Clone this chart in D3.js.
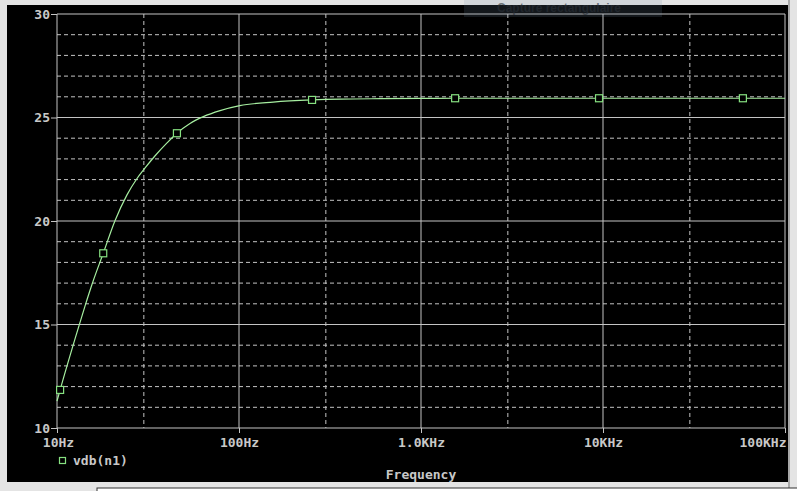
<!DOCTYPE html>
<html>
<head>
<meta charset="utf-8">
<script src="https://cdn.jsdelivr.net/npm/d3@7/dist/d3.min.js"></script>
<style>
  html, body { margin: 0; padding: 0; background: #e4e4e4; overflow: hidden; }
  svg { display: block; }
  .lbl { font-family: "DejaVu Sans Mono", "Liberation Mono", monospace; font-weight: bold; font-size: 13px; fill: #c8c8c8; }
</style>
</head>
<body>
<svg id="chart"></svg>
<script>
// trace vdb(n1)
const freqs = [10, 10.4, 13.1, 14.25, 15.8, 17.95, 20.8, 24.2, 27.4, 30.4, 34.5, 40.1, 45.6,
               53.8, 63.7, 78.7, 101, 154, 252, 359, 600, 1000, 1540, 10000, 100000];
const vdb = [11.3, 11.84, 14.84, 15.89, 17.1, 18.44, 20.0, 21.25, 22.03, 22.55, 23.14, 23.76, 24.24,
             24.71, 25.04, 25.33, 25.57, 25.745, 25.85, 25.89, 25.91, 25.92, 25.93, 25.93, 25.93];

// points where the plotter drew its square markers
const markerFreqs = [10.4, 17.95, 45.6, 252, 1540, 9510, 58700];
const markerVals = [11.84, 18.44, 24.24, 25.85, 25.93, 25.93, 25.93];

const xTicks = [10, 100, 1000, 10000, 100000];
const xTickLabels = ["10Hz", "100Hz", "1.0KHz", "10KHz", "100KHz"];
const xMinor = [30, 300, 3000, 30000];
const yTicks = [10, 15, 20, 25, 30];
const yMinor = [11, 12, 13, 14, 16, 17, 18, 19, 21, 22, 23, 24, 26, 27, 28, 29];

const W = 797, H = 491;
const margin = { top: 14, right: 12, bottom: 63, left: 57 };
const plotW = W - margin.left - margin.right;
const plotH = H - margin.top - margin.bottom;

const svg = d3.select("#chart").attr("width", W).attr("height", H);

// window frame
svg.append("rect").attr("x", 7).attr("y", 5).attr("width", 781).attr("height", 477).attr("fill", "#000");
svg.append("rect").attr("x", 788).attr("y", 0).attr("width", 2).attr("height", H).attr("fill", "#a8a8a8");
svg.append("rect").attr("x", 97).attr("y", 488).attr("width", 710).attr("height", 12)
    .attr("fill", "#fff").attr("stroke", "#303030");

const x = d3.scaleLog().domain([10, 100000]).range([0, plotW]);
const y = d3.scaleLinear().domain([10, 30]).range([plotH, 0]);

const g = svg.append("g").attr("transform", `translate(${margin.left},${margin.top})`);

// grid
const gridColor = "#c4c4c4";
g.selectAll(".hminor").data(yMinor).enter().append("line")
    .attr("x1", 0).attr("x2", plotW).attr("y1", d => y(d)).attr("y2", d => y(d))
    .attr("stroke", gridColor).attr("stroke-dasharray", "4,3");
g.selectAll(".vminor").data(xMinor).enter().append("line")
    .attr("y1", 0).attr("y2", plotH).attr("x1", d => x(d)).attr("x2", d => x(d))
    .attr("stroke", gridColor).attr("stroke-dasharray", "4,3");
g.selectAll(".hmajor").data(yTicks).enter().append("line")
    .attr("x1", 0).attr("x2", plotW).attr("y1", d => y(d)).attr("y2", d => y(d))
    .attr("stroke", gridColor);
g.selectAll(".vmajor").data(xTicks).enter().append("line")
    .attr("y1", 0).attr("y2", plotH).attr("x1", d => x(d)).attr("x2", d => x(d))
    .attr("stroke", gridColor);

// axes
const xAxis = g.append("g").attr("transform", `translate(0,${plotH})`)
    .call(d3.axisBottom(x).tickValues(xTicks).tickFormat((d, i) => xTickLabels[i])
        .tickSize(5).tickSizeOuter(0).tickPadding(5));
const yAxis = g.append("g")
    .call(d3.axisLeft(y).tickValues(yTicks).tickFormat(d3.format("d"))
        .tickSize(6).tickSizeOuter(0).tickPadding(1));
[xAxis, yAxis].forEach(a => {
    a.select(".domain").remove();
    a.selectAll("line").attr("stroke", gridColor);
    a.selectAll("text").attr("class", "lbl").attr("fill", null);
});
xAxis.selectAll("text").filter((d, i) => i === xTicks.length - 1)
    .attr("text-anchor", "end").attr("dx", 1);
xAxis.selectAll("text").filter((d, i) => i === 0).attr("dx", 1);

// trace
const line = d3.line().x((d, i) => x(freqs[i])).y(d => y(d)).curve(d3.curveMonotoneX);
g.append("path").datum(vdb).attr("d", line)
    .attr("fill", "none").attr("stroke", "#a6eea0").attr("stroke-width", 1.2);

g.selectAll(".mk").data(markerVals).enter().append("rect")
    .attr("x", (d, i) => x(markerFreqs[i]) - 3.5).attr("y", d => y(d) - 3.5)
    .attr("width", 7).attr("height", 7)
    .attr("fill", "#000").attr("stroke", "#86e080").attr("stroke-width", 1.2);

// legend
svg.append("rect").attr("x", 59.5).attr("y", 457.5).attr("width", 6).attr("height", 6)
    .attr("fill", "none").attr("stroke", "#86e080").attr("stroke-width", 1.2);
svg.append("text").attr("class", "lbl").attr("x", 73).attr("y", 465).text("vdb(n1)");

// x title
svg.append("text").attr("class", "lbl").attr("x", margin.left + x(1000)).attr("y", 479)
    .attr("text-anchor", "middle").text("Frequency");

// screen-capture tooltip overlay
svg.append("rect").attr("x", 464).attr("y", 0).attr("width", 198).attr("height", 17)
    .attr("fill", "#7890a8").attr("opacity", 0.16);
svg.append("text").attr("x", 497).attr("y", 12).attr("font-family", "Liberation Sans, sans-serif")
    .attr("font-size", "12px").attr("font-weight", "bold").attr("fill", "#2a3038").attr("opacity", 0.6)
    .text("Capture rectangulaire");
</script>
</body>
</html>
